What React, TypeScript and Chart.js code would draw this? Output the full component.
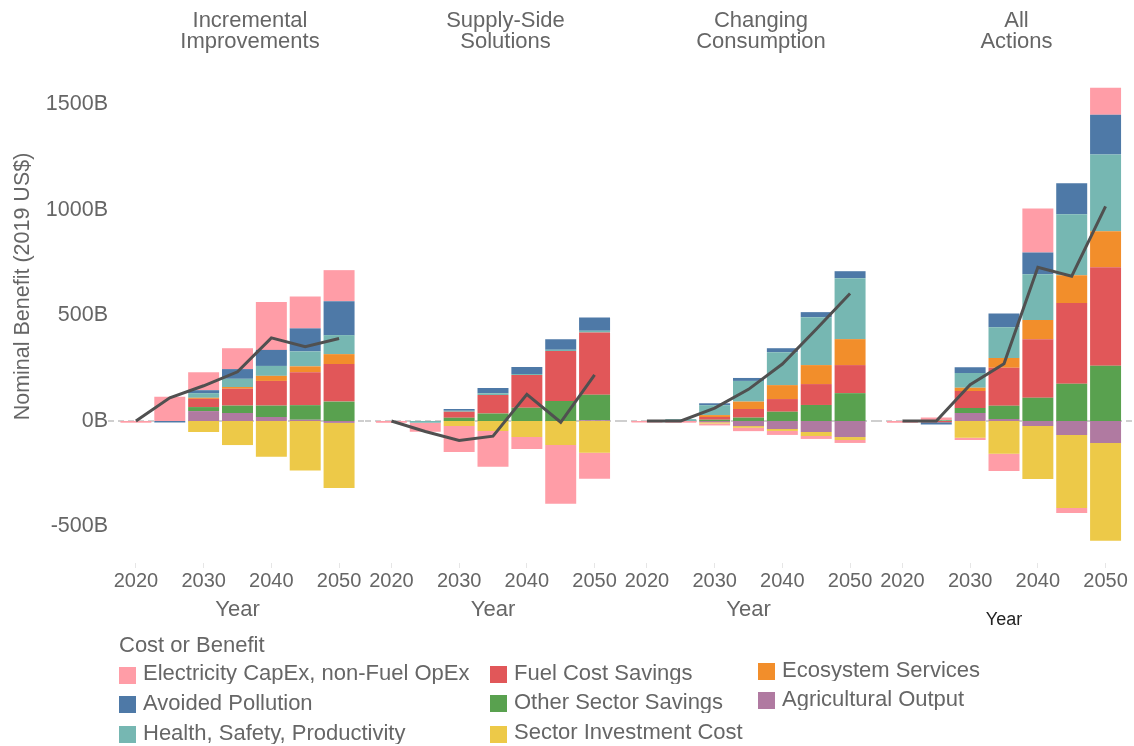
import React, { useEffect, useRef } from 'react';
import { Chart, registerables } from 'chart.js';

Chart.register(...registerables);

// ---------------- data ----------------
const years = ['2020', '2025', '2030', '2035', '2040', '2045', '2050'];
const yearTickLabels = ['2020', '2030', '2040', '2050'];
const yTickValues = [-500, 0, 500, 1000, 1500];
const panelTitles = [
  ['Incremental', 'Improvements'],
  ['Supply-Side', 'Solutions'],
  ['Changing', 'Consumption'],
  ['All', 'Actions'],
];
const yAxisTitle = 'Nominal Benefit (2019 US$)';
const xAxisTitle = 'Year';
const legendTitle = 'Cost or Benefit';

// values in billions of 2019 US$, one row per panel, one value per year
const electricityCapex = [
  [-8, 115, 85, 99, 227, 151, 147],
  [-8, -43, -123, -170, -57, -278, -123],
  [-7, -8, -9, -16, -19, -14, -14],
  [-8, 12, -11, -82, 208, -24, 128],
];
const avoidedPollution = [
  [0, -7, 14, 46, 76, 109, 161],
  [0, 0, 8, 24, 33, 50, 62],
  [0, 0, 9, 14, 19, 24, 33],
  [0, -10, 28, 66, 104, 147, 189],
];
const healthSafety = [
  [0, 0, 22, 39, 47, 71, 90],
  [0, -8, 5, 9, 5, 6, 8],
  [0, 9, 47, 98, 156, 227, 289],
  [0, 3, 69, 145, 216, 289, 364],
];
const fuelCostSavings = [
  [0, 0, 39, 80, 117, 156, 178],
  [0, 0, 28, 87, 155, 237, 295],
  [0, 0, 13, 41, 60, 99, 133],
  [0, -6, 80, 180, 278, 382, 467],
];
const otherSectorSavings = [
  [0, 0, 19, 35, 54, 69, 92],
  [0, 0, 16, 36, 63, 95, 121],
  [0, 0, 6, 16, 44, 76, 132],
  [0, 2, 24, 63, 110, 177, 262],
];
const sectorInvestmentCost = [
  [0, 0, -52, -114, -169, -235, -308],
  [0, 0, -24, -47, -76, -114, -151],
  [0, 0, -6, -8, -9, -19, -14],
  [0, 0, -79, -155, -251, -346, -464],
];
const ecosystemServices = [
  [0, 0, 5, 8, 24, 28, 47],
  [0, 0, 0, 0, 0, 0, 0],
  [0, 0, 9, 35, 66, 90, 123],
  [0, 0, 16, 47, 91, 132, 170],
];
const agriculturalOutput = [
  [0, 0, 47, 38, 19, 6, -9],
  [0, 0, 0, 0, 0, 0, 4],
  [0, 0, -6, -24, -38, -52, -76],
  [0, 0, 38, 9, -24, -66, -104],
];
const netBenefit = [
  [0, 110, 167, 233, 394, 352, 391],
  [0, -50, -92, -72, 126, -6, 219],
  [0, 0, 61, 150, 270, 435, 604],
  [0, 0, 172, 271, 729, 686, 1017],
];

// series (stacking order from the zero line outward)
const stackSeries = [
  { name: 'Agricultural Output', color: '#b07aa1', values: agriculturalOutput },
  { name: 'Other Sector Savings', color: '#59a14f', values: otherSectorSavings },
  { name: 'Fuel Cost Savings', color: '#e15759', values: fuelCostSavings },
  { name: 'Ecosystem Services', color: '#f28e2b', values: ecosystemServices },
  { name: 'Health, Safety, Productivity', color: '#76b7b2', values: healthSafety },
  { name: 'Avoided Pollution', color: '#4e79a7', values: avoidedPollution },
  { name: 'Sector Investment Cost', color: '#edc948', values: sectorInvestmentCost },
  { name: 'Electricity CapEx, non-Fuel OpEx', color: '#ff9da7', values: electricityCapex },
];

// legend columns (names)
const legendColumns = [
  ['Electricity CapEx, non-Fuel OpEx', 'Avoided Pollution', 'Health, Safety, Productivity'],
  ['Fuel Cost Savings', 'Other Sector Savings', 'Sector Investment Cost'],
  ['Ecosystem Services', 'Agricultural Output'],
];

// ---------------- layout / style ----------------
const FONT = 'Arial, "Liberation Sans", Helvetica, sans-serif';
const TEXT = '#666666';
const W = 1134;
const H = 746;
const AREA_TOP = 10;
const AREA_BOTTOM = 563;
const X_AXIS_H = 70;
const AREA_W = 237;
const FIRST_AREA_LEFT = 119;
const PANEL_STEP = 255.5;
const Y_MIN = -673;
const Y_MAX = 1948;

function areaLeft(k: number) {
  return FIRST_AREA_LEFT + PANEL_STEP * k;
}

function geometry(k: number) {
  const aL = areaLeft(k);
  const left = k === 0 ? 0 : Math.floor(aL - 9);
  const right = k < 3 ? Math.floor(areaLeft(k + 1) - 9) : Math.ceil(aL + AREA_W + 9);
  return {
    left,
    width: right - left,
    padL: k === 0 ? 0 : aL - left,
    padR: right - (aL + AREA_W),
  };
}

const zeroLinePlugin = {
  id: 'zeroLine',
  beforeDatasetsDraw(chart: any, _args: any, opts: any) {
    const y = chart.scales.y.getPixelForValue(0);
    const ctx = chart.ctx;
    const start = opts && opts.fromArea ? chart.chartArea.left - 11 : 0;
    ctx.save();
    ctx.strokeStyle = '#cfcfcf';
    ctx.lineWidth = 2;
    ctx.setLineDash([6, 4]);
    ctx.beginPath();
    ctx.moveTo(start, y);
    ctx.lineTo(chart.width, y);
    ctx.stroke();
    ctx.restore();
  },
};

function Panel({ k }: { k: number }) {
  const ref = useRef<HTMLCanvasElement | null>(null);
  const g = geometry(k);
  useEffect(() => {
    if (!ref.current) return;
    const lastPanel = k === 3;
    const datasets: any[] = stackSeries.map((s) => ({
      type: 'bar',
      label: s.name,
      data: s.values[k],
      backgroundColor: s.color,
      borderWidth: 0,
      barPercentage: 0.915,
      categoryPercentage: 1,
      stack: 'benefits',
      order: 1,
    }));
    datasets.push({
      type: 'line',
      label: 'Net',
      data: netBenefit[k],
      borderColor: '#505050',
      borderWidth: 3,
      pointRadius: 0,
      tension: 0,
      fill: false,
      stack: 'net',
      order: 0,
    });
    const chart = new Chart(ref.current, {
      type: 'bar',
      data: { labels: years, datasets },
      plugins: [zeroLinePlugin],
      options: {
        animation: false,
        responsive: false,
        layout: {
          padding: {
            left: g.padL,
            right: g.padR,
            top: AREA_TOP,
            bottom: H - AREA_BOTTOM - X_AXIS_H,
          },
        },
        plugins: {
          legend: { display: false },
          tooltip: { enabled: false },
          title: { display: false },
          zeroLine: { fromArea: k === 0 },
        } as any,
        scales: {
          x: {
            type: 'category',
            stacked: true,
            offset: true,
            grid: {
              display: true,
              offset: false,
              drawOnChartArea: false,
              drawTicks: true,
              tickLength: 5,
              tickWidth: 1,
              tickColor: (ctx: any) =>
                yearTickLabels.includes(years[ctx.index]) ? '#e6e6e6' : 'rgba(0,0,0,0)',
            },
            border: { display: false },
            ticks: {
              autoSkip: false,
              maxRotation: 0,
              minRotation: 0,
              padding: 1,
              color: TEXT,
              font: { family: FONT, size: 20 },
              callback: (_v: any, i: number) =>
                yearTickLabels.includes(years[i]) ? years[i] : '',
            },
            title: {
              display: true,
              text: xAxisTitle,
              color: lastPanel ? '#222222' : TEXT,
              font: { family: FONT, size: lastPanel ? 18 : 22 },
              padding: { top: 0, bottom: lastPanel ? 2.2 : 9.8 },
            },
            afterFit: (s: any) => {
              s.height = X_AXIS_H;
              s.paddingLeft = 0;
              s.paddingRight = 0;
            },
          },
          y: {
            type: 'linear',
            stacked: true,
            min: Y_MIN,
            max: Y_MAX,
            display: k === 0,
            grid: { display: false, drawTicks: false },
            border: { display: false },
            afterBuildTicks: (s: any) => {
              s.ticks = yTickValues.map((v) => ({ value: v }));
            },
            ticks: {
              padding: 11,
              color: TEXT,
              font: { family: FONT, size: 21.5 },
              callback: (v: any) => `${v}B`,
            },
            title: {
              display: true,
              text: yAxisTitle,
              color: TEXT,
              font: { family: FONT, size: 21.5 },
              padding: { top: 10, bottom: 0 },
            },
            afterFit: (s: any) => {
              if (k === 0) s.width = FIRST_AREA_LEFT;
              else s.width = 0;
              s.paddingTop = 0;
              s.paddingBottom = 0;
            },
          },
        } as any,
      },
    } as any);
    return () => chart.destroy();
  }, [k]);
  return (
    <canvas
      ref={ref}
      width={g.width}
      height={H}
      style={{ position: 'absolute', left: g.left, top: 0, width: g.width, height: H }}
    />
  );
}

const legendColX = [119, 490, 758];
const legendRowY = [
  [673, 702.4, 732.7],
  [672.8, 701.8, 732],
  [669.5, 698.5],
];

function colorOf(name: string) {
  const s = stackSeries.find((x) => x.name === name);
  return s ? s.color : '#000';
}

export default function App() {
  const textBase: React.CSSProperties = {
    position: 'absolute',
    fontFamily: FONT,
    fontSize: 22,
    lineHeight: '22px',
    color: TEXT,
    whiteSpace: 'nowrap',
  };
  return (
    <div
      style={{
        position: 'absolute',
        left: 0,
        top: 0,
        width: W,
        height: H,
        overflow: 'hidden',
        background: '#ffffff',
      }}
    >
      {[0, 1, 2, 3].map((k) => (
        <Panel key={k} k={k} />
      ))}
      {panelTitles.map((lines, k) => {
        const c = areaLeft(k) + AREA_W / 2 + 12.5;
        return (
          <div
            key={'t' + k}
            style={{
              ...textBase,
              left: c - 130,
              width: 260,
              top: 9,
              textAlign: 'center',
              lineHeight: '21.3px',
            }}
          >
            {lines.map((l, i) => (
              <div key={i}>{l}</div>
            ))}
          </div>
        );
      })}
      <div style={{ ...textBase, left: 119, top: 645 - 10.7 }}>{legendTitle}</div>
      {legendColumns.map((col, ci) =>
        col.map((name, ri) => {
          const cy = legendRowY[ci][ri];
          return (
            <React.Fragment key={name}>
              <div
                style={{
                  position: 'absolute',
                  left: legendColX[ci],
                  top: cy - 6.5,
                  width: 17,
                  height: 17,
                  background: colorOf(name),
                }}
              />
              <div
                style={{
                  ...textBase,
                  left: legendColX[ci] + 24,
                  top: cy - 10.7,
                  maxWidth: ci === 0 ? 334 : 240,
                  overflow: 'hidden',
                  textOverflow: 'ellipsis',
                }}
              >
                {name}
              </div>
            </React.Fragment>
          );
        })
      )}
    </div>
  );
}
